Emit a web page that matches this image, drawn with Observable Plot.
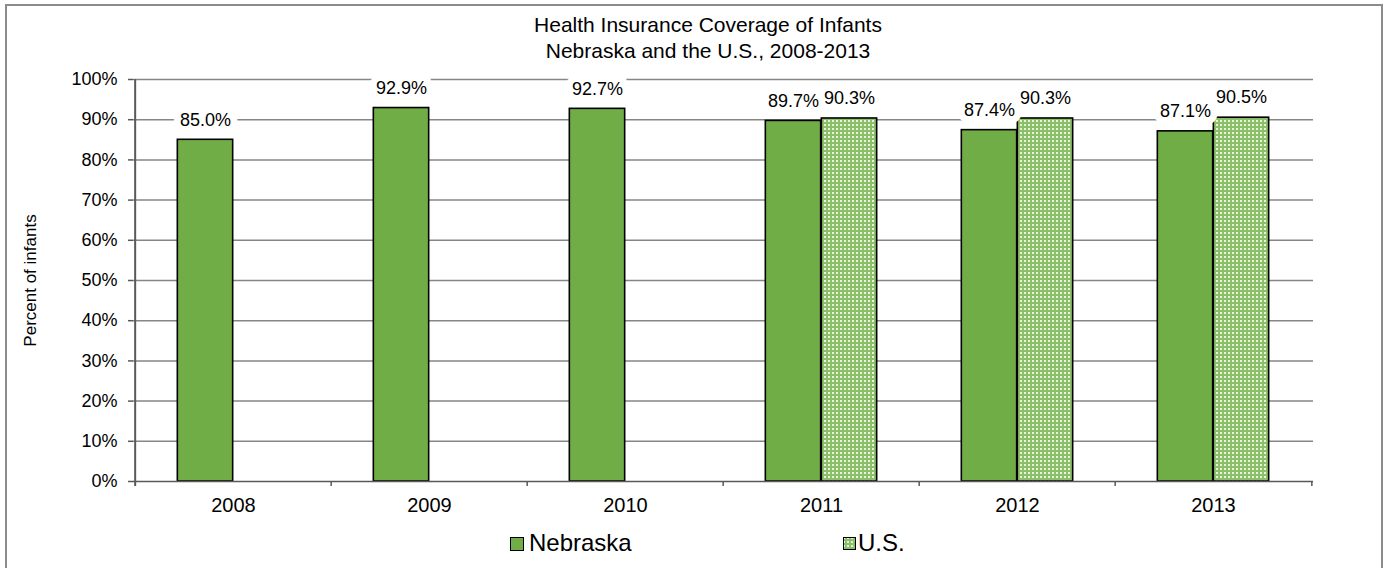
<!DOCTYPE html>
<html>
<head>
<meta charset="utf-8">
<script src="https://cdn.jsdelivr.net/npm/d3@7"></script>
<script src="https://cdn.jsdelivr.net/npm/@observablehq/plot@0.6"></script>
<style>
  body { margin: 0; background: #fff; font-family: "Liberation Sans", Arial, sans-serif; }
  #wrap { position: relative; width: 1387px; height: 568px; overflow: hidden; }
  #border { position: absolute; left: 5px; top: 4px; width: 1378px; height: 620px; border: 2px solid #8c8c8c; box-sizing: border-box; pointer-events: none; }
  .title { position: absolute; left: 0; width: 1416px; text-align: center; font-size: 21px; color: #000; line-height: 26px; }
  .leg { position: absolute; font-size: 24px; color: #000; line-height: 28px; }
  .sw { position: absolute; }
</style>
</head>
<body>
<svg xmlns="http://www.w3.org/2000/svg" width="0" height="0" style="position:absolute">
  <defs>
    <pattern id="usDots" patternUnits="userSpaceOnUse" x="0" y="0" width="4" height="4">
      <rect x="0" y="0" width="4" height="4" fill="#8CC068"/>
      <rect x="0" y="0" width="2" height="2" fill="#e8f3df"/>
    </pattern>
  </defs>
</svg>
<div id="wrap">
  <div class="title" style="top:12px">Health Insurance Coverage of Infants</div>
  <div class="title" style="top:38px">Nebraska and the U.S., 2008-2013</div>
  <div id="chart"></div>
  <svg class="sw" style="left:510px;top:537px" width="14" height="14"><rect x="0.5" y="0.5" width="13" height="13" fill="#70AD47" stroke="#000" stroke-width="1"/></svg>
  <div class="leg" style="left:529px;top:529px">Nebraska</div>
  <svg class="sw" style="left:843px;top:537px" width="14" height="14"><rect x="0.5" y="0.5" width="12" height="12" fill="#8CC068"/><rect x="0.5" y="0.5" width="12" height="12" fill="url(#usDots)" stroke="#000" stroke-width="1"/></svg>
  <div class="leg" style="left:858px;top:529px">U.S.</div>
  <div id="border"></div>
</div>
<script>
// ---- data ----
const years = ["2008", "2009", "2010", "2011", "2012", "2013"];
const nebraska = [0.850, 0.929, 0.927, 0.897, 0.874, 0.871];
const us = [null, null, null, 0.903, 0.903, 0.905];
const yTicks = [0, 0.1, 0.2, 0.3, 0.4, 0.5, 0.6, 0.7, 0.8, 0.9, 1.0];
const axisTitle = "Percent of infants";

const nebData = years.map((year, i) => ({year, series: "Nebraska", value: nebraska[i]}));
const usData = years.map((year, i) => ({year, series: "U.S.", value: us[i]})).filter(d => d.value != null);

// ---- layout ----
const W = 1387, H = 568;
const mL = 133, mR = 74, mT = 79, mB = 87;
const bw = (W - mL - mR) / years.length;
const barW = 56;
const green = "#70AD47";
const usGreen = "#8CC068";
const pct1 = d3.format(".1%");
const below = -0.0125; // axis tick extension below baseline (in y units)
const usInset = {insetLeft: bw / 2, insetRight: bw / 2 - barW};

const chart = Plot.plot({
  width: W,
  height: H,
  marginLeft: mL,
  marginRight: mR,
  marginTop: mT,
  marginBottom: mB,
  style: {fontFamily: '"Liberation Sans", Arial, sans-serif', color: "#000", background: "transparent", overflow: "visible"},
  x: {type: "band", domain: years, padding: 0, label: null},
  y: {domain: [0, 1], label: null},
  marks: [
    Plot.ruleY(yTicks.filter(t => t > 0), {stroke: "#868686", strokeWidth: 1.5}),
    Plot.barY(nebData, {x: "year", y: "value", fill: green, stroke: "#000", strokeWidth: 1.6,
      insetLeft: bw / 2 - barW, insetRight: bw / 2}),
    Plot.barY(usData, {x: "year", y: "value", fill: usGreen, ...usInset}),
    Plot.barY(usData, {x: "year", y: "value", fill: "url(#usDots)", stroke: "#000", strokeWidth: 1.6, ...usInset}),
    Plot.ruleY([0], {stroke: "#595959", strokeWidth: 1.5}),
    Plot.ruleX([years[0]], {x: d => d, dx: -bw / 2, y1: below, y2: 1, stroke: "#595959", strokeWidth: 2}),
    Plot.ruleX(years.slice(1), {x: d => d, dx: -bw / 2, y1: below, y2: 0, stroke: "#595959", strokeWidth: 1.5}),
    Plot.ruleX([years[years.length - 1]], {x: d => d, dx: bw / 2, y1: below, y2: 0, stroke: "#595959", strokeWidth: 1.5}),
    // label halos (hide gridlines behind labels)
    Plot.text(nebData, {x: "year", y: "value", text: d => pct1(d.value), dx: -barW / 2, dy: -20,
      fontSize: 18, fill: "white", stroke: "white", strokeWidth: 14}),
    Plot.text(usData, {x: "year", y: "value", text: d => pct1(d.value), dx: barW / 2, dy: -20,
      fontSize: 18, fill: "white", stroke: "white", strokeWidth: 14}),
    Plot.text(nebData, {x: "year", y: "value", text: d => pct1(d.value), dx: -barW / 2, dy: -20,
      fontSize: 18, fill: "#000"}),
    Plot.text(usData, {x: "year", y: "value", text: d => pct1(d.value), dx: barW / 2, dy: -20,
      fontSize: 18, fill: "#000"}),
    Plot.axisY({ticks: yTicks, tickFormat: d3.format(".0%"), tickSize: 5, tickPadding: 11,
      fontSize: 18, stroke: "#595959", strokeWidth: 1.5, label: null}),
    Plot.axisX({tickSize: 0, tickPadding: 16, fontSize: 20, label: null}),
    Plot.text([axisTitle], {frameAnchor: "left", rotate: -90, dx: -103, textAnchor: "middle", fontSize: 17, fill: "#000"})
  ]
});

const holder = document.getElementById("chart");
holder.appendChild(chart);
chart.style.position = "absolute";
chart.style.left = "0px";
chart.style.top = "0px";
</script>
</body>
</html>
